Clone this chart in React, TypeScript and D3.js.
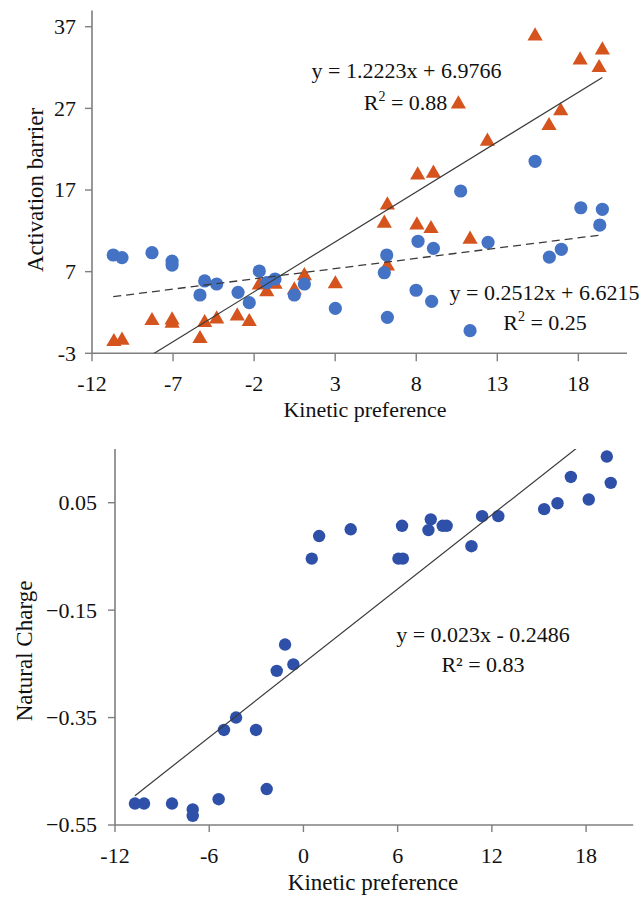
import React from "react";
import * as d3 from "d3";

// ---------- Top chart data ----------
const topBlueX = [-10.69, -10.15, -8.3, -7.06, -7.06, -5.34, -5.05, -4.31, -2.99, -2.3, -1.68, -1.22, -0.71, 0.48, 1.1, 3.01, 6.03, 6.18, 6.22, 7.99, 8.11, 8.95, 9.06, 10.74, 11.32, 12.43, 15.33, 16.21, 16.95, 18.15, 19.32, 19.48];
const topBlueY = [9.04, 8.71, 9.32, 8.3, 7.81, 4.14, 5.86, 5.49, 4.47, 3.2, 7.08, 5.65, 6.1, 4.14, 5.49, 2.51, 6.87, 9.04, 1.41, 4.72, 10.72, 3.37, 9.86, 16.88, -0.23, 10.59, 20.52, 8.79, 9.74, 14.83, 12.71, 14.64];
const topOrangeX = [-10.65, -10.15, -8.3, -7.06, -7.06, -5.34, -5.05, -4.31, -3.04, -2.3, -1.68, -1.22, -0.71, 0.48, 1.1, 3.01, 6.03, 6.22, 6.22, 8.04, 8.09, 8.91, 9.06, 10.6, 11.32, 12.39, 15.33, 16.19, 16.91, 18.11, 19.28, 19.48];
const topOrangeY = [-1.58, -1.41, 0.99, 1.08, 0.67, -1.21, 0.75, 1.2, 1.57, 0.87, 5.36, 4.54, 5.45, 4.75, 6.5, 5.49, 12.92, 15.16, 7.69, 12.71, 18.84, 12.26, 19.05, 27.53, 10.96, 22.96, 35.86, 24.88, 26.68, 32.92, 31.98, 34.15];
const topXTicks = [-12, -7, -2, 3, 8, 13, 18];
const topYTicks = [-3, 7, 17, 27, 37];
const topOrangeFit = { slope: 1.2223, intercept: 6.9766, r2: "0.88" };
const topBlueFit = { slope: 0.2512, intercept: 6.6215, r2: "0.25" };

// ---------- Bottom chart data ----------
const botX = [-10.73, -10.15, -8.37, -7.05, -7.05, -5.4, -5.06, -4.29, -3.02, -2.34, -1.7, -1.17, -0.64, 0.53, 1.0, 3.01, 6.05, 6.33, 6.28, 7.96, 8.11, 8.87, 9.12, 10.7, 11.38, 12.41, 15.33, 16.18, 17.03, 18.17, 19.32, 19.57];
const botY = [-0.51, -0.51, -0.51, -0.521, -0.533, -0.502, -0.373, -0.35, -0.373, -0.483, -0.263, -0.214, -0.251, -0.054, -0.012, 0.0005, -0.054, -0.054, 0.007, -0.001, 0.019, 0.007, 0.007, -0.031, 0.025, 0.025, 0.038, 0.049, 0.098, 0.056, 0.136, 0.087];
const botXTicks = [-12, -6, 0, 6, 12, 18];
const botYTicks = [-0.55, -0.35, -0.15, 0.05];
const botFit = { slope: 0.023, intercept: -0.2486, r2: "0.83" };

const FONT = "'Liberation Serif', 'Times New Roman', serif";
const AXIS = "#7f7f7f";
const LINE = "#3a3a3a";
const BLUE = "#4472C4";
const ORANGE = "#D5541E";
const DARKBLUE = "#2E50A8";

function fmtSigned(v: number) {
  return v.toFixed(4).replace(/0+$/, "").replace(/\.$/, "");
}

export default function App() {
  // top scales
  const tx = d3.scaleLinear().domain([-12, 21]).range([92, 627]);
  const ty = d3.scaleLinear().domain([-3, 39]).range([353.3, 10.4]);
  // bottom scales
  const bx = d3.scaleLinear().domain([-12, 21]).range([115, 633.2]);
  const by = d3.scaleLinear().domain([-0.55, 0.15]).range([825, 449]);

  const tri = d3.symbol().type(d3.symbolTriangle).size(100)();

  const fitLine = (xs: number[], fit: { slope: number; intercept: number }, sx: any, sy: any) => {
    const [x0, x1] = d3.extent(xs) as [number, number];
    const line = d3.line<number>().x((d) => sx(d)).y((d) => sy(fit.slope * d + fit.intercept));
    return line([x0, x1]) || "";
  };

  const topY0 = ty(-3), topY1 = ty(39);
  const botY0 = by(-0.55), botY1 = by(0.15);

  return (
    <svg
      width={642}
      height={897}
      style={{ position: "fixed", left: 0, top: 0, background: "#fff" }}
      fontFamily={FONT}
    >
      <defs>
        <clipPath id="clipTop">
          <rect x={tx(-12)} y={topY1} width={tx(21) - tx(-12)} height={topY0 - topY1} />
        </clipPath>
        <clipPath id="clipBot">
          <rect x={bx(-12)} y={botY1} width={bx(21) - bx(-12)} height={botY0 - botY1} />
        </clipPath>
      </defs>
      <rect width={642} height={897} fill="#fff" />

      {/* ===== TOP CHART ===== */}
      <g>
        <line x1={tx(-12)} x2={tx(-12)} y1={topY1} y2={topY0} stroke={AXIS} strokeWidth={1.6} />
        <line x1={tx(-12)} x2={tx(21)} y1={topY0} y2={topY0} stroke={AXIS} strokeWidth={1.6} />
        {topYTicks.map((t) => (
          <g key={"ty" + t}>
            <line x1={tx(-12) - 7} x2={tx(-12)} y1={ty(t)} y2={ty(t)} stroke={AXIS} strokeWidth={1.4} />
            <text x={tx(-12) - 16} y={ty(t)} dy="0.34em" textAnchor="end" fontSize={22} fill="#111">
              {t}
            </text>
          </g>
        ))}
        {topXTicks.map((t) => (
          <g key={"tx" + t}>
            <line x1={tx(t)} x2={tx(t)} y1={topY0} y2={topY0 + 8} stroke={AXIS} strokeWidth={1.4} />
            <text x={tx(t)} y={391} textAnchor="middle" fontSize={22} fill="#111">
              {t}
            </text>
          </g>
        ))}
        <text x={365} y={417} textAnchor="middle" fontSize={22} fill="#111">
          Kinetic preference
        </text>
        <text transform="translate(43,190) rotate(-90)" textAnchor="middle" fontSize={23} fill="#111">
          Activation barrier
        </text>

        {topOrangeX.map((x, i) => (
          <path key={"o" + i} d={tri} transform={`translate(${tx(x)},${ty(topOrangeY[i])})`} fill={ORANGE} />
        ))}
        {topBlueX.map((x, i) => (
          <circle key={"b" + i} cx={tx(x)} cy={ty(topBlueY[i])} r={6.6} fill={BLUE} />
        ))}

        <g clipPath="url(#clipTop)">
          <path d={fitLine(topOrangeX, topOrangeFit, tx, ty)} stroke={LINE} strokeWidth={1.2} fill="none" />
          <path
            d={fitLine(topBlueX, topBlueFit, tx, ty)}
            stroke={LINE}
            strokeWidth={1.3}
            strokeDasharray="8,5"
            fill="none"
          />
        </g>

        <text x={406.5} y={77.5} textAnchor="middle" fontSize={22} fill="#111">
          {`y = ${fmtSigned(topOrangeFit.slope)}x + ${fmtSigned(topOrangeFit.intercept)}`}
        </text>
        <text x={405.5} y={110} textAnchor="middle" fontSize={22} fill="#111">
          R<tspan fontSize={14} dy={-9}>2</tspan>
          <tspan dy={9}>{` = ${topOrangeFit.r2}`}</tspan>
        </text>
        <text x={544.5} y={300} textAnchor="middle" fontSize={22} fill="#111">
          {`y = ${fmtSigned(topBlueFit.slope)}x + ${fmtSigned(topBlueFit.intercept)}`}
        </text>
        <text x={545} y={330} textAnchor="middle" fontSize={22} fill="#111">
          R<tspan fontSize={14} dy={-9}>2</tspan>
          <tspan dy={9}>{` = ${topBlueFit.r2}`}</tspan>
        </text>
      </g>

      {/* ===== BOTTOM CHART ===== */}
      <g>
        <line x1={bx(-12)} x2={bx(-12)} y1={botY1} y2={botY0} stroke={AXIS} strokeWidth={1.6} />
        <line x1={bx(-12)} x2={bx(21)} y1={botY0} y2={botY0} stroke={AXIS} strokeWidth={1.6} />
        {botYTicks.map((t) => (
          <g key={"by" + t}>
            <line x1={bx(-12) - 7} x2={bx(-12)} y1={by(t)} y2={by(t)} stroke={AXIS} strokeWidth={1.4} />
            <text x={bx(-12) - 18} y={by(t)} dy="0.34em" textAnchor="end" fontSize={22} fill="#111">
              {d3.format(".2f")(t)}
            </text>
          </g>
        ))}
        {botXTicks.map((t) => (
          <g key={"bx" + t}>
            <line x1={bx(t)} x2={bx(t)} y1={botY0} y2={botY0 + 7} stroke={AXIS} strokeWidth={1.4} />
            <text x={bx(t)} y={863} textAnchor="middle" fontSize={22} fill="#111">
              {t}
            </text>
          </g>
        ))}
        <text x={373} y={890} textAnchor="middle" fontSize={23} fill="#111">
          Kinetic preference
        </text>
        <text transform="translate(31.5,651) rotate(-90)" textAnchor="middle" fontSize={23} fill="#111">
          Natural Charge
        </text>

        {botX.map((x, i) => (
          <circle key={"n" + i} cx={bx(x)} cy={by(botY[i])} r={6.2} fill={DARKBLUE} />
        ))}

        <g clipPath="url(#clipBot)">
          <path d={fitLine(botX, botFit, bx, by)} stroke={LINE} strokeWidth={1.2} fill="none" />
        </g>

        <text x={483} y={641.7} textAnchor="middle" fontSize={22} fill="#111">
          {`y = ${fmtSigned(botFit.slope)}x - ${fmtSigned(Math.abs(botFit.intercept))}`}
        </text>
        <text x={483} y={671.7} textAnchor="middle" fontSize={22} fill="#111">
          {`R² = ${botFit.r2}`}
        </text>
      </g>
    </svg>
  );
}
